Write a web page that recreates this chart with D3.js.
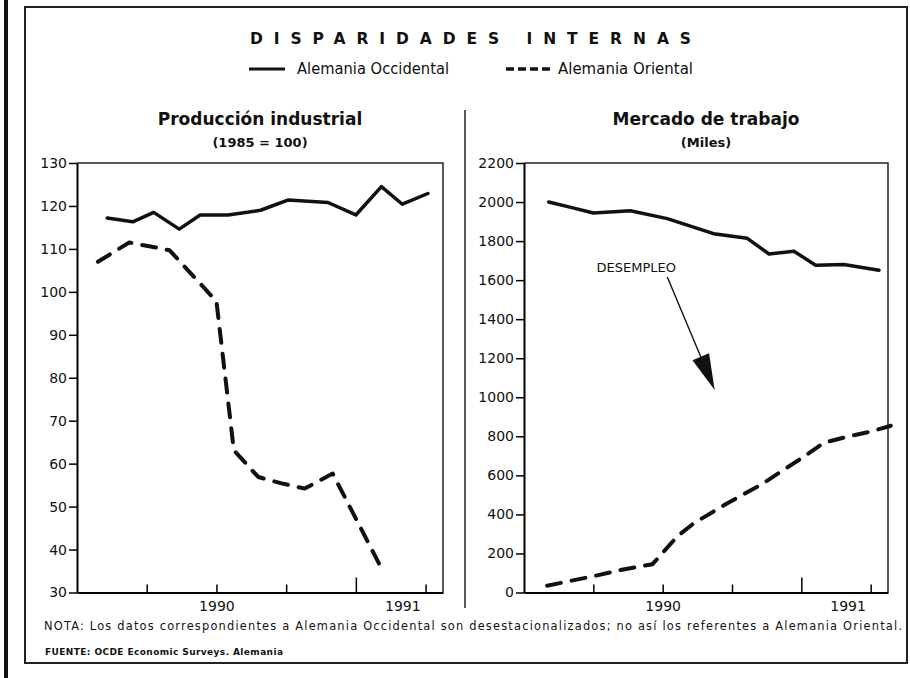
<!DOCTYPE html>
<html>
<head>
<meta charset="utf-8">
<script src="https://cdn.jsdelivr.net/npm/d3@7"></script>
<style>
  body { margin: 0; background: #fff; }
  text { fill: #111; }
</style>
</head>
<body>
<div id="chart"></div>
<script>
const WIDTH = 910;
const HEIGHT = 678;
const FONT = "'DejaVu Sans', sans-serif";

// x positions are months counted from January 1990
const monthTicks = [3, 6, 9, 12, 15];
const yearBreaks = [12];
const yearLabels = ["1990", "1991"];
const yearLabelPos = [6, 14];

// Producción industrial (1985 = 100)
const prodTicks = [30, 40, 50, 60, 70, 80, 90, 100, 110, 120, 130];
const prodWestMonth = [1.3, 2.4, 3.3, 4.4, 5.3, 6.5, 7.9, 9.1, 10.8, 12.0, 13.1, 14.0, 15.1];
const prodWestValue = [117.2, 116.3, 118.5, 114.6, 117.9, 117.9, 119.0, 121.4, 120.8, 117.9, 124.5, 120.4, 122.9];
const prodEastMonth = [0.9, 2.25, 3.98, 6.0, 6.75, 7.8, 8.8, 9.8, 11.0, 13.0];
const prodEastValue = [107.0, 111.5, 109.7, 97.8, 63.1, 56.9, 55.4, 54.2, 57.7, 36.7];

// Mercado de trabajo (miles)
const jobsTicks = [0, 200, 400, 600, 800, 1000, 1200, 1400, 1600, 1800, 2000, 2200];
const jobsWestMonth = [1.07, 2.16, 3.0, 4.6, 6.2, 8.2, 9.66, 10.6, 11.68, 12.62, 13.84, 15.36];
const jobsWestValue = [2000, 1969, 1944, 1955, 1915, 1838, 1814, 1734, 1748, 1676, 1680, 1651];
const jobsEastMonth = [1.0, 3.02, 4.18, 5.56, 6.63, 7.35, 8.8, 10.24, 12.11, 12.98, 13.99, 15.0, 15.87];
const jobsEastValue = [35, 84, 115, 145, 287, 355, 457, 551, 696, 767, 798, 824, 854];

// annotation "DESEMPLEO": label and arrow, in month / miles units
const arrowFrom = [6.2, 1616];
const arrowTo = [8.25, 1037];
const arrowLabelAt = [3.14, 1640];

const zip = (ms, vs) => ms.map((m, i) => ({ m: m, v: vs[i] }));

const svg = d3
  .select("#chart")
  .append("svg")
  .attr("width", WIDTH)
  .attr("height", HEIGHT)
  .style("font-family", FONT);

// page frame
svg.append("rect").attr("x", 4).attr("y", 0).attr("width", 4).attr("height", HEIGHT).attr("fill", "#111");
svg
  .append("rect")
  .attr("x", 25)
  .attr("y", 7)
  .attr("width", 882)
  .attr("height", 656)
  .attr("fill", "none")
  .attr("stroke", "#222")
  .attr("stroke-width", 2);

svg
  .append("text")
  .attr("x", 250)
  .attr("y", 44)
  .attr("font-size", 15.5)
  .attr("font-weight", "bold")
  .attr("textLength", 441)
  .attr("lengthAdjust", "spacing")
  .text("DISPARIDADES INTERNAS");

// legend
svg.append("line").attr("x1", 249).attr("x2", 285).attr("y1", 69).attr("y2", 69)
  .attr("stroke", "#111").attr("stroke-width", 3);
svg.append("text").attr("x", 297).attr("y", 74).attr("font-size", 15)
  .attr("textLength", 152).attr("lengthAdjust", "spacingAndGlyphs").text("Alemania Occidental");
svg.append("line").attr("x1", 506).attr("x2", 550).attr("y1", 69).attr("y2", 69)
  .attr("stroke", "#111").attr("stroke-width", 3.5).attr("stroke-dasharray", "8,4");
svg.append("text").attr("x", 558).attr("y", 74).attr("font-size", 15)
  .attr("textLength", 135).attr("lengthAdjust", "spacingAndGlyphs").text("Alemania Oriental");

// divider between the two panels
svg.append("line").attr("x1", 465).attr("x2", 465).attr("y1", 110).attr("y2", 608)
  .attr("stroke", "#222").attr("stroke-width", 1.5);

function drawPanel(p) {
  const x = d3.scaleLinear().domain([0, 15.75]).range([p.left, p.right]);
  const y = d3.scaleLinear().domain(p.domain).range([592.5, 163]);
  const g = svg.append("g");
  const cx = (p.left + p.right) / 2;

  g.append("text").attr("x", cx).attr("y", 125).attr("text-anchor", "middle")
    .attr("font-size", 17).attr("font-weight", "bold").text(p.title);
  g.append("text").attr("x", cx).attr("y", 147).attr("text-anchor", "middle")
    .attr("font-size", 13).attr("font-weight", "bold").text(p.subtitle);

  // top and right edge of the plot box
  g.append("path")
    .attr("d", `M${p.left},${y.range()[1]}H${p.right}V${y.range()[0]}`)
    .attr("fill", "none").attr("stroke", "#222").attr("stroke-width", 1.5);

  const yAxis = g.append("g")
    .attr("transform", `translate(${p.left},0)`)
    .call(d3.axisLeft(y).tickValues(p.ticks).tickSize(8).tickSizeOuter(0).tickPadding(2)
      .tickFormat(d3.format("d")));
  yAxis.attr("font-family", FONT).attr("font-size", 14);
  yAxis.select(".domain").attr("stroke-width", 2);
  yAxis.selectAll(".tick line").attr("stroke-width", 1.5);

  const xAxis = g.append("g")
    .attr("transform", `translate(0,${y.range()[0]})`)
    .call(d3.axisBottom(x).tickValues(monthTicks).tickSize(-8).tickSizeOuter(0).tickFormat(""));
  xAxis.select(".domain").attr("stroke-width", 2);
  xAxis.selectAll(".tick line")
    .attr("stroke-width", 1.5)
    .attr("y2", (d) => (yearBreaks.includes(d) ? -15 : -8));

  const xLabels = g.append("g")
    .attr("transform", `translate(0,${y.range()[0]})`)
    .call(d3.axisBottom(x).tickValues(yearLabelPos).tickSize(0).tickPadding(9)
      .tickFormat((d, i) => yearLabels[i]));
  xLabels.attr("font-family", FONT).attr("font-size", 14);
  xLabels.select(".domain").remove();

  const line = d3.line().x((d) => x(d.m)).y((d) => y(d.v));

  g.append("path")
    .datum(zip(p.westMonth, p.westValue))
    .attr("d", line)
    .attr("fill", "none")
    .attr("stroke", "#111")
    .attr("stroke-width", 3.5)
    .attr("stroke-linejoin", "round")
    .attr("stroke-linecap", "round");

  g.append("path")
    .datum(zip(p.eastMonth, p.eastValue))
    .attr("d", line)
    .attr("fill", "none")
    .attr("stroke", "#111")
    .attr("stroke-width", 4)
    .attr("stroke-dasharray", "14,11")
    .attr("stroke-linejoin", "round")
    .attr("stroke-linecap", "round");

  return { x, y, g };
}

drawPanel({
  left: 77, right: 443,
  domain: [30, 130], ticks: prodTicks,
  title: "Producción industrial", subtitle: "(1985 = 100)",
  westMonth: prodWestMonth, westValue: prodWestValue,
  eastMonth: prodEastMonth, eastValue: prodEastValue,
});

const jobs = drawPanel({
  left: 524, right: 888,
  domain: [0, 2200], ticks: jobsTicks,
  title: "Mercado de trabajo", subtitle: "(Miles)",
  westMonth: jobsWestMonth, westValue: jobsWestValue,
  eastMonth: jobsEastMonth, eastValue: jobsEastValue,
});

// DESEMPLEO arrow
const ax0 = jobs.x(arrowFrom[0]), ay0 = jobs.y(arrowFrom[1]);
const ax1 = jobs.x(arrowTo[0]), ay1 = jobs.y(arrowTo[1]);
const len = Math.hypot(ax1 - ax0, ay1 - ay0);
const ux = (ax1 - ax0) / len, uy = (ay1 - ay0) / len;
const headLen = 36, headHalf = 9;
const bx = ax1 - ux * headLen, by = ay1 - uy * headLen;
jobs.g.append("line").attr("x1", ax0).attr("y1", ay0).attr("x2", bx).attr("y2", by)
  .attr("stroke", "#111").attr("stroke-width", 1.4);
jobs.g.append("path")
  .attr("d", `M${ax1},${ay1}L${bx - uy * headHalf},${by + ux * headHalf}L${bx + uy * headHalf},${by - ux * headHalf}Z`)
  .attr("fill", "#111");
jobs.g.append("text")
  .attr("x", jobs.x(arrowLabelAt[0]))
  .attr("y", jobs.y(arrowLabelAt[1]))
  .attr("font-size", 13)
  .text("DESEMPLEO");

// notes
svg.append("text").attr("x", 44).attr("y", 630).attr("font-size", 11.4)
  .attr("textLength", 858).attr("lengthAdjust", "spacing")
  .text("NOTA: Los datos correspondientes a Alemania Occidental son desestacionalizados; no así los referentes a Alemania Oriental.");
svg.append("text").attr("x", 45).attr("y", 655).attr("font-size", 9).attr("font-weight", "bold")
  .attr("textLength", 238).attr("lengthAdjust", "spacing")
  .text("FUENTE: OCDE Economic Surveys. Alemania");
</script>
</body>
</html>
